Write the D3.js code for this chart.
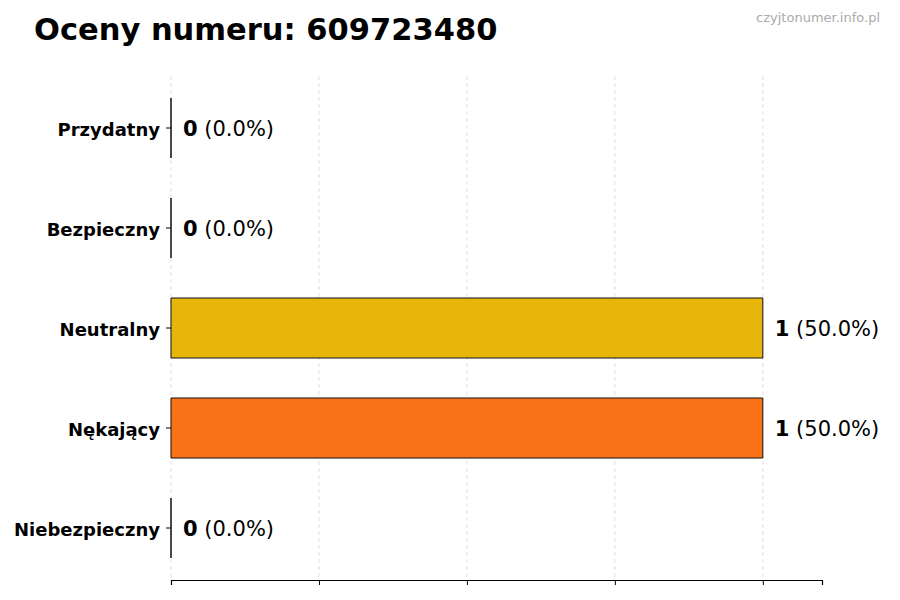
<!DOCTYPE html>
<html>
<head>
<meta charset="utf-8">
<script src="https://cdn.jsdelivr.net/npm/d3@7"></script>
<style>
  body { margin: 0; background: #fff; }
  svg { font-family: "DejaVu Sans", sans-serif; }
</style>
</head>
<body>
<svg id="chart" width="900" height="600"></svg>
<script>
var categories = ["Przydatny", "Bezpieczny", "Neutralny", "Nękający", "Niebezpieczny"]
var counts = [0, 0, 1, 1, 0]
var percents = [0.0, 0.0, 50.0, 50.0, 0.0]
var barColors = ["#2ca02c", "#1f77b4", "#E8B50A", "#F97316", "#DC2626"]
var xTicks = [0, 0.25, 0.5, 0.75, 1]

var svg = d3.select("#chart")
var plotLeft = 171, plotRight = 822, plotTop = 76, plotBottom = 580

var x = d3.scaleLinear()
    .domain([0, 1.1])
    .range([plotLeft, plotRight])

var y = d3.scaleBand()
    .domain(categories)
    .range([plotTop, plotBottom])
    .paddingInner(0.4)
    .paddingOuter(0.22)

// grid
svg.append("g")
    .selectAll("line")
    .data(xTicks)
    .enter()
    .append("line")
    .attr("x1", function(d) { return x(d) })
    .attr("x2", function(d) { return x(d) })
    .attr("y1", plotTop)
    .attr("y2", plotBottom)
    .attr("stroke", "#d4d4d4")
    .attr("stroke-width", 0.8)
    .attr("stroke-dasharray", "4,3")

var rows = categories.map(function(c, i) {
    return { label: c, count: counts[i], pct: percents[i], color: barColors[i] }
})

// bars as paths so zero-width bars still show their outline
svg.append("g")
    .selectAll("path")
    .data(rows)
    .enter()
    .append("path")
    .attr("d", function(d) {
        var x0 = x(0), w = x(d.count) - x(0), y0 = y(d.label), h = y.bandwidth()
        return "M" + x0 + "," + y0 + "h" + w + "v" + h + "h" + (-w) + "Z"
    })
    .attr("fill", function(d) { return d.color })
    .attr("stroke", "#111")
    .attr("stroke-width", 1)

// value labels
var lab = svg.append("g")
    .selectAll("text")
    .data(rows)
    .enter()
    .append("text")
    .attr("x", function(d) { return x(d.count) + 12 })
    .attr("y", function(d) { return y(d.label) + y.bandwidth() / 2 + 1 })
    .attr("dy", "0.35em")
    .style("font-size", "21px")
lab.append("tspan")
    .style("font-weight", "bold")
    .text(function(d) { return d.count })
lab.append("tspan")
    .text(function(d) { return " (" + d.pct.toFixed(1) + "%)" })

// axes
var xAxis = svg.append("g")
    .attr("transform", "translate(0," + plotBottom + ")")
    .call(d3.axisBottom(x).tickValues(xTicks).tickFormat("").tickSizeOuter(0).tickSize(5))
xAxis.select(".domain").attr("stroke", "#000").attr("stroke-width", 1.2)
xAxis.selectAll(".tick line").attr("stroke", "#000")

var yAxis = svg.append("g")
    .attr("transform", "translate(" + plotLeft + ",0)")
    .call(d3.axisLeft(y).tickSize(5).tickPadding(6))
yAxis.select(".domain").remove()
yAxis.selectAll(".tick line").attr("stroke", "#000")
yAxis.selectAll("text")
    .attr("fill", "#000")
    .attr("dy", "0.45em")
    .style("font-size", "18px")
    .style("font-weight", "bold")
    .style("font-family", "DejaVu Sans, sans-serif")

svg.append("text")
    .attr("x", 34)
    .attr("y", 40)
    .style("font-size", "30.5px")
    .style("font-weight", "bold")
    .text("Oceny numeru: 609723480")

svg.append("text")
    .attr("x", 880)
    .attr("y", 22)
    .attr("text-anchor", "end")
    .attr("fill", "#aaaaaa")
    .style("font-size", "13px")
    .text("czyjtonumer.info.pl")
</script>
</body>
</html>
